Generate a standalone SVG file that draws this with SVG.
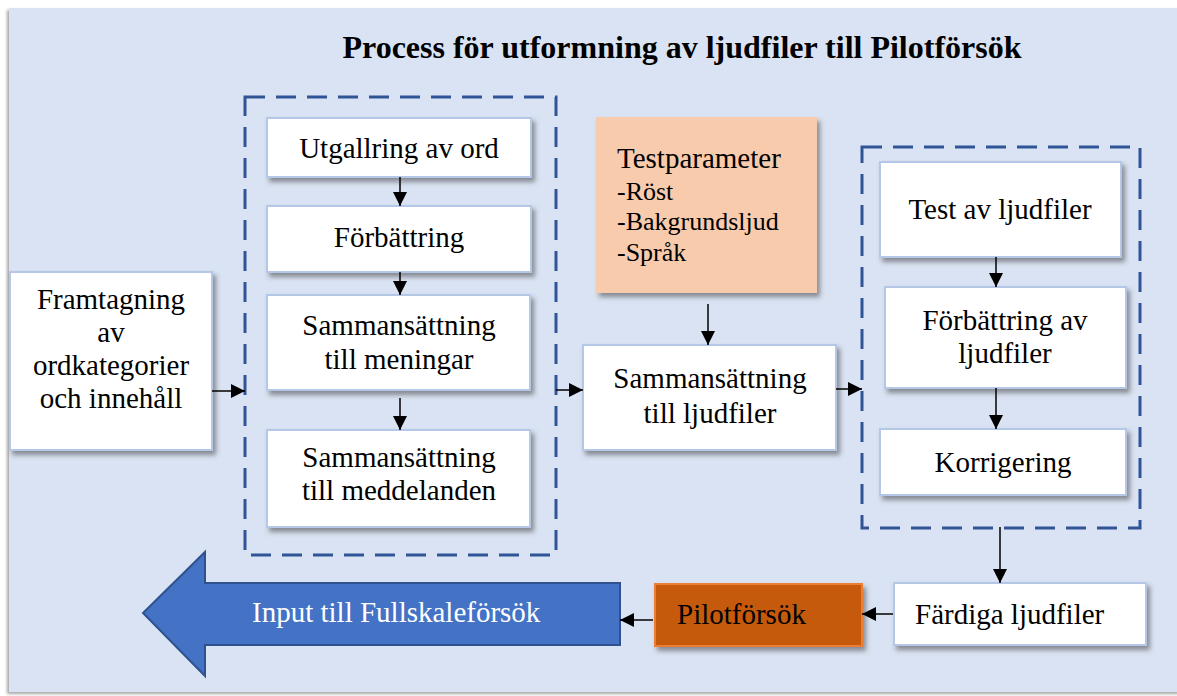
<svg xmlns="http://www.w3.org/2000/svg" width="1177" height="696" viewBox="0 0 1177 696">
<defs>
<filter id="sh" x="-10%" y="-10%" width="130%" height="140%">
<feDropShadow dx="3" dy="4" stdDeviation="2.5" flood-color="#404040" flood-opacity="0.55"/>
</filter>
<filter id="bgsh" x="-2%" y="-2%" width="104%" height="104%">
<feDropShadow dx="-2" dy="2" stdDeviation="1.5" flood-color="#808080" flood-opacity="0.7"/>
</filter>
<marker id="ah" markerWidth="16" markerHeight="16" refX="14" refY="7" orient="auto" markerUnits="userSpaceOnUse">
<path d="M0,0 L14,7 L0,14 Z" fill="#000"/>
</marker>
<style>
text{font-family:'Liberation Serif','Times New Roman',Tinos,Times,'DejaVu Serif',serif;font-size:29px;fill:#000}
.c{text-anchor:middle}
.box{fill:#fff;stroke:#B4C7E7;stroke-width:2}
.dash{fill:none;stroke:#2F5597;stroke-width:3;stroke-dasharray:20 11}
.conn line{stroke:#000;stroke-width:1.5;marker-end:url(#ah)}
</style>
</defs>
<rect x="0" y="0" width="1177" height="696" fill="#fff"/>
<rect x="9" y="8" width="1172" height="684" fill="#DAE3F3" filter="url(#bgsh)"/>
<text x="682" y="58" class="c" style="font-size:32px;font-weight:bold">Process för utformning av ljudfiler till Pilotförsök</text>

<g id="group-left">
<rect x="245" y="97" width="311" height="458" class="dash"/>
</g>
<g id="group-right">
<rect x="862" y="147" width="278" height="381" class="dash"/>
</g>

<g id="framtagning">
<rect x="10" y="272" width="202" height="178" class="box" filter="url(#sh)"/>
<text class="c" x="111" y="309">Framtagning</text>
<text class="c" x="111" y="342">av</text>
<text class="c" x="111" y="375">ordkategorier</text>
<text class="c" x="111" y="408">och innehåll</text>
</g>

<g id="utgallring">
<rect x="267" y="118" width="264" height="59" class="box" filter="url(#sh)"/>
<text class="c" x="399" y="158">Utgallring av ord</text>
</g>
<g id="forbattring">
<rect x="267" y="206" width="264" height="66" class="box" filter="url(#sh)"/>
<text class="c" x="399" y="247">Förbättring</text>
</g>
<g id="meningar">
<rect x="267" y="295" width="263" height="95" class="box" filter="url(#sh)"/>
<text class="c" x="399" y="335">Sammansättning</text>
<text class="c" x="399" y="369">till meningar</text>
</g>
<g id="meddelanden">
<rect x="267" y="430" width="263" height="97" class="box" filter="url(#sh)"/>
<text class="c" x="399" y="467">Sammansättning</text>
<text class="c" x="399" y="500">till meddelanden</text>
</g>

<g id="testparameter">
<rect x="596" y="117" width="221" height="176" fill="#F8CBAD" filter="url(#sh)"/>
<text x="617" y="168">Testparameter</text>
<text x="617" y="200" style="font-size:26px">-Röst</text>
<text x="617" y="230" style="font-size:26px">-Bakgrundsljud</text>
<text x="617" y="261" style="font-size:26px">-Språk</text>
</g>
<g id="ljudfiler">
<rect x="583" y="345" width="253" height="105" class="box" filter="url(#sh)"/>
<text class="c" x="710" y="388">Sammansättning</text>
<text class="c" x="710" y="423">till ljudfiler</text>
</g>

<g id="test">
<rect x="880" y="162" width="241" height="95" class="box" filter="url(#sh)"/>
<text class="c" x="1000" y="219">Test av ljudfiler</text>
</g>
<g id="forbattring-ljud">
<rect x="885" y="287" width="241" height="101" class="box" filter="url(#sh)"/>
<text class="c" x="1005" y="330">Förbättring av</text>
<text class="c" x="1005" y="363">ljudfiler</text>
</g>
<g id="korrigering">
<rect x="880" y="429" width="246" height="66" class="box" filter="url(#sh)"/>
<text class="c" x="1003" y="472">Korrigering</text>
</g>

<g id="fardiga">
<rect x="894" y="583" width="252" height="62" class="box" filter="url(#sh)"/>
<text x="915" y="624">Färdiga ljudfiler</text>
</g>
<g id="pilot">
<rect x="655" y="584" width="207" height="62" fill="#C55A11" stroke="#ED7D31" stroke-width="2" filter="url(#sh)"/>
<text x="677" y="624">Pilotförsök</text>
</g>
<g id="input">
<polygon points="620,583 205,583 205,552 143,613 205,676 205,645 620,645" fill="#4472C4" stroke="#2F528F" stroke-width="2"/>
<text x="252" y="622" style="fill:#fff">Input till Fullskaleförsök</text>
</g>

<g id="connectors" class="conn">
<line x1="212" y1="391" x2="245" y2="391"/>
<line x1="400" y1="177" x2="400" y2="206"/>
<line x1="400" y1="272" x2="400" y2="295"/>
<line x1="400" y1="398" x2="400" y2="430"/>
<line x1="556" y1="390" x2="583" y2="390"/>
<line x1="708" y1="304" x2="708" y2="345"/>
<line x1="836" y1="389" x2="862" y2="389"/>
<line x1="996" y1="257" x2="996" y2="287"/>
<line x1="996" y1="388" x2="996" y2="429"/>
<line x1="1000" y1="527" x2="1000" y2="583"/>
<line x1="893" y1="614" x2="862" y2="614"/>
<line x1="653" y1="620" x2="620" y2="620"/>
</g>
</svg>
